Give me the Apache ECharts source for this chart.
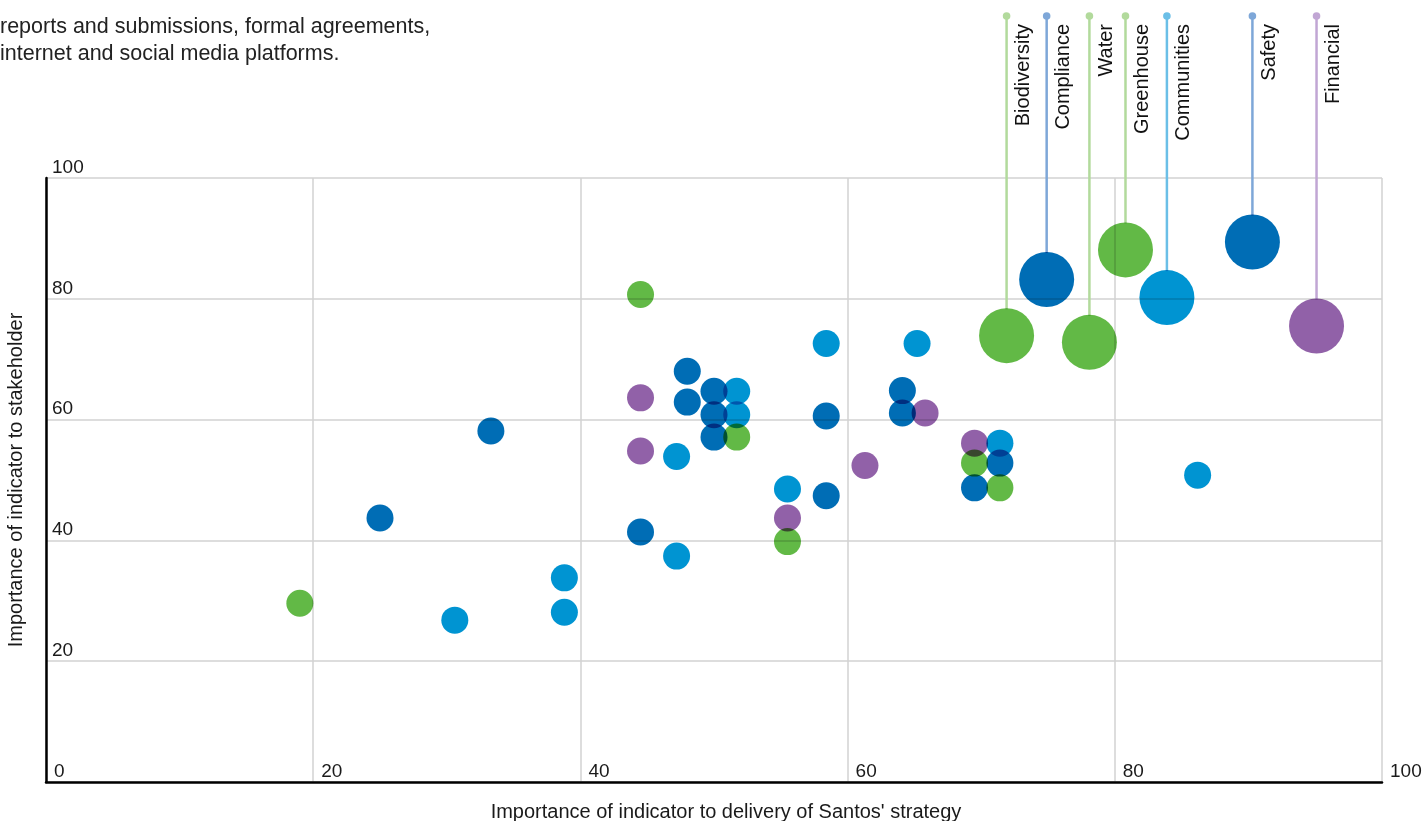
<!DOCTYPE html>
<html>
<head>
<meta charset="utf-8">
<title>Materiality matrix</title>
<script src="https://cdn.jsdelivr.net/npm/echarts@6/dist/echarts.min.js"></script>
<style>
  html, body { margin: 0; padding: 0; background: #ffffff; }
  #chart { width: 1423px; height: 821px; }
</style>
</head>
<body>
<div id="chart"></div>
<script>
// Indicator positions: [importance to strategy, importance to stakeholder]
const darkBluePoints = [[25, 43.7], [33.3, 58.1], [48, 68], [48, 62.9], [50, 64.7], [50, 60.8], [50, 57.1],
  [44.5, 41.4], [58.4, 60.6], [58.4, 47.4], [64.1, 64.8], [64.1, 61.1], [69.5, 48.7], [71.4, 52.8]];
const lightBluePoints = [[30.6, 26.8], [38.8, 33.8], [38.8, 28.1], [58.4, 72.6], [51.7, 64.7], [51.7, 60.8],
  [47.2, 53.9], [47.2, 37.4], [55.5, 48.5], [65.2, 72.6], [71.4, 56.1], [86.2, 50.8]];
const greenPoints = [[19, 29.6], [44.5, 80.7], [51.7, 57.1], [55.5, 39.8], [69.5, 52.8], [71.4, 48.7]];
const purplePoints = [[44.5, 63.6], [44.5, 54.8], [61.3, 52.4], [55.5, 43.7], [65.8, 61.1], [69.5, 56.1]];

// Key material indicators, drawn large with a labelled leader line
const keyNames = ['Biodiversity', 'Compliance', 'Water', 'Greenhouse', 'Communities', 'Safety', 'Financial'];
const keyX = [71.9, 74.9, 78.1, 80.8, 83.9, 90.3, 95.1];
const keyY = [73.9, 83.2, 72.8, 88.1, 80.2, 89.4, 75.5];
const keyGroup = ['green', 'darkBlue', 'green', 'green', 'lightBlue', 'darkBlue', 'purple'];

const axisTicks = [0, 20, 40, 60, 80, 100];

const groupColor = { darkBlue: '#006db5', lightBlue: '#0094d2', green: '#62b946', purple: '#9161a8' };
const leaderColor = { darkBlue: '#7ea7d8', lightBlue: '#6bbfe7', green: '#b2da9c', purple: '#c1a6d4' };

const SMALL = 27;
const BIG = 55;
const FONT = '"Liberation Sans", Arial, sans-serif';

function groupSeries(key, pts) {
  const data = pts.map(p => ({ value: p, symbolSize: SMALL }));
  keyNames.forEach((n, i) => {
    if (keyGroup[i] === key) data.push({ value: [keyX[i], keyY[i]], symbolSize: BIG, name: n });
  });
  return {
    type: 'scatter',
    data: data,
    blendMode: 'multiply',
    itemStyle: { color: groupColor[key], opacity: 1 },
    emphasis: { disabled: true },
    z: 3
  };
}

const leaderData = keyNames.map((n, i) => ({ value: [keyX[i], keyY[i]], name: n, group: keyGroup[i] }));

const chart = echarts.init(document.getElementById('chart'), null, { renderer: 'canvas' });

chart.setOption({
  animation: false,
  backgroundColor: '#ffffff',
  textStyle: { fontFamily: FONT },
  grid: { left: 46, right: 41, top: 178, bottom: 39, containLabel: false, outerBoundsMode: 'none' },
  xAxis: {
    type: 'value', min: 0, max: 100, interval: 20,
    name: "Importance of indicator to delivery of Santos' strategy",
    nameLocation: 'middle', nameGap: 20,
    nameTextStyle: { fontSize: 20, color: '#1a1a1a', fontFamily: FONT, padding: [0, 0, 0, 24] },
    axisLine: { show: true, lineStyle: { color: '#000000', width: 2.5 } },
    axisTick: { show: false },
    splitLine: { show: true, lineStyle: { color: '#d2d2d2', width: 1.5 } },
    axisLabel: {
      inside: true, margin: 1, align: 'left', verticalAlign: 'bottom',
      padding: [0, 0, 0, 8], fontSize: 19, lineHeight: 19, color: '#1a1a1a',
      showMinLabel: true, showMaxLabel: true,
      formatter: v => (axisTicks.indexOf(v) >= 0 ? String(v) : '')
    }
  },
  yAxis: {
    type: 'value', min: 0, max: 100, interval: 20,
    name: 'Importance of indicator to stakeholder',
    nameLocation: 'middle', nameGap: 20, nameRotate: 90,
    nameTextStyle: { fontSize: 20, color: '#1a1a1a', fontFamily: FONT },
    axisLine: { show: true, lineStyle: { color: '#000000', width: 2.5 } },
    axisTick: { show: false },
    splitLine: { show: true, lineStyle: { color: '#d2d2d2', width: 1.5 } },
    axisLabel: {
      inside: true, margin: 6, align: 'left', verticalAlign: 'bottom',
      padding: [0, 0, 1, 0], fontSize: 19, lineHeight: 19, color: '#1a1a1a',
      showMinLabel: true, showMaxLabel: true,
      formatter: v => (v === 0 ? '' : String(v))
    }
  },
  graphic: [
    {
      type: 'text', left: 0, top: 14,
      style: {
        text: 'reports and submissions, formal agreements,\ninternet and social media platforms.',
        font: '21.5px ' + FONT, fill: '#222222', lineHeight: 27
      }
    }
  ],
  series: [
    {
      type: 'custom',
      clip: false,
      z: 1,
      silent: true,
      data: leaderData,
      renderItem: function (params, api) {
        const item = leaderData[params.dataIndex];
        const p = api.coord([api.value(0), api.value(1)]);
        const c = leaderColor[item.group];
        const topY = 16;
        return {
          type: 'group',
          children: [
            { type: 'line', shape: { x1: p[0], y1: topY, x2: p[0], y2: p[1] - BIG / 2 + 1 },
              style: { stroke: c, lineWidth: 2.5 } },
            { type: 'circle', shape: { cx: p[0], cy: topY, r: 3.8 }, style: { fill: c } },
            { type: 'text', x: p[0] + 17, y: 24, rotation: Math.PI / 2,
              style: { text: item.name, font: '20px ' + FONT, fill: '#111111',
                       align: 'right', verticalAlign: 'middle' } }
          ]
        };
      }
    },
    groupSeries('darkBlue', darkBluePoints),
    groupSeries('lightBlue', lightBluePoints),
    groupSeries('green', greenPoints),
    groupSeries('purple', purplePoints)
  ]
});
</script>
</body>
</html>
